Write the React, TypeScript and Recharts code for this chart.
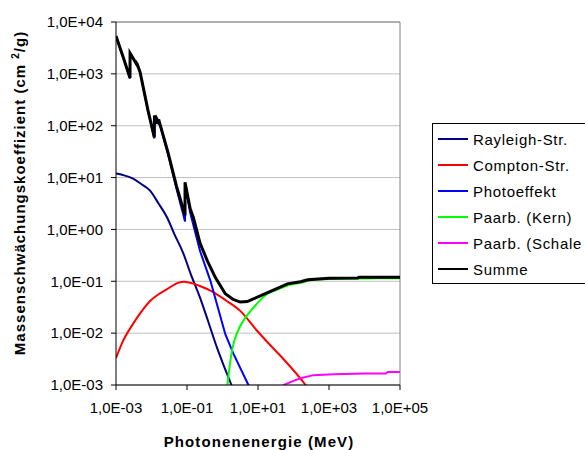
import { LineChart, Line, XAxis, YAxis, CartesianGrid, ReferenceLine } from "recharts";

// energies in MeV, mass attenuation in cm²/g
const sumEnergy = [
  1e-3, 1.58e-3, 2.48e-3, 2.49e-3, 3.16e-3, 3.55e-3, 3.56e-3, 3.85e-3, 3.86e-3, 4.79e-3,
  7.94e-3, 1.2e-2, 1.21e-2, 1.45e-2, 1.46e-2, 1.58e-2, 1.59e-2, 2.95e-2, 5e-2, 8.8e-2,
  8.81e-2, 0.123, 0.151, 0.234, 0.372, 0.631, 1.2, 2.0, 3.16, 5.0, 7.41, 18.6, 67.6, 158,
  251, 1000, 6460, 7000, 1e5,
];
const sumValues = [
  5370, 2140, 832, 2510, 1905, 1660, 1780, 1510, 1620, 1070,
  200, 60, 158, 112, 130, 118, 132, 29.5, 7.08, 1.86,
  8.13, 2.51, 1.7, 0.537, 0.251, 0.1175, 0.0575, 0.0447, 0.0398, 0.0407, 0.0457, 0.0603, 0.0891, 0.0977,
  0.107, 0.115, 0.116, 0.119, 0.119,
];

const photoEnergy = [
  1e-3, 1.58e-3, 2.48e-3, 2.49e-3, 3.16e-3, 3.55e-3, 3.56e-3, 3.85e-3, 3.86e-3, 4.79e-3,
  7.94e-3, 1.2e-2, 1.21e-2, 1.45e-2, 1.46e-2, 1.58e-2, 1.59e-2, 2.95e-2, 5e-2, 8.8e-2,
  8.81e-2, 0.123, 0.234, 0.457, 1.2, 2.04, 5.37, 8.0,
];
const photoValues = [
  5300, 2110, 818, 2480, 1880, 1640, 1760, 1490, 1600, 1055,
  195, 57, 154, 108, 126, 114, 128, 27.5, 6.3, 1.42,
  7.3, 2.1, 0.38, 0.102, 0.00955, 0.00398, 0.001, 0.00056,
];

const rayleighEnergy = [
  1e-3, 1.58e-3, 3.02e-3, 5.01e-3, 9.12e-3, 1.58e-2, 2.75e-2, 4.47e-2, 7.76e-2, 0.126,
  0.234, 0.398, 0.708, 1.12, 1.78, 2.51,
];
const rayleighValues = [
  12.0, 11.2, 9.55, 7.59, 5.62, 3.16, 1.7, 0.794, 0.355, 0.141,
  0.0479, 0.0166, 0.00513, 0.00224, 0.001, 0.0005,
];

const comptonEnergy = [
  1e-3, 1.58e-3, 3.02e-3, 5.01e-3, 9.12e-3, 1.58e-2, 2.75e-2, 5.62e-2, 8.32e-2, 0.123,
  0.251, 0.457, 1.26, 3.16, 9.55, 20, 49, 219, 316,
];
const comptonValues = [
  0.00331, 0.00708, 0.0151, 0.0251, 0.0417, 0.0562, 0.0708, 0.0933, 0.0977, 0.0933,
  0.0794, 0.0661, 0.0427, 0.0269, 0.011, 0.0063, 0.00331, 0.001, 0.000708,
];

const kernEnergy = [1.15, 1.38, 1.91, 2.63, 3.89, 7.41, 18.6, 35.5, 67.6, 158, 302, 1000, 1e4, 1e5];
const kernValues = [
  0.000251, 0.001, 0.00513, 0.0105, 0.0174, 0.0309, 0.0575, 0.0692, 0.0832, 0.0933, 0.105, 0.111, 0.1135, 0.115,
];

const schaleEnergy = [31.6, 52.5, 100, 158, 363, 1350, 1e4, 3.98e4, 4.47e4, 1e5];
const schaleValues = [0.0005, 0.001, 0.0012, 0.00135, 0.00155, 0.00162, 0.00166, 0.00166, 0.00178, 0.00178];

const xTicks = [1e-3, 1e-1, 1e1, 1e3, 1e5];
const yTicks = [1e-3, 1e-2, 1e-1, 1e0, 1e1, 1e2, 1e3, 1e4];

const toPoints = (xs: number[], ys: number[]) => xs.map((x, i) => ({ x, y: ys[i] }));

// curves with absorption edges stay linear, the smooth ones get monotone interpolation
const series = [
  { name: "Rayleigh-Str.", color: "#000080", width: 2, curve: "monotoneX", data: toPoints(rayleighEnergy, rayleighValues) },
  { name: "Compton-Str.", color: "#FF0000", width: 2, curve: "monotoneX", data: toPoints(comptonEnergy, comptonValues) },
  { name: "Photoeffekt", color: "#0000FF", width: 2, curve: "linear", data: toPoints(photoEnergy, photoValues) },
  { name: "Paarb. (Kern)", color: "#00FF00", width: 2, curve: "monotoneX", data: toPoints(kernEnergy, kernValues) },
  { name: "Paarb. (Schale", color: "#FF00FF", width: 2, curve: "linear", data: toPoints(schaleEnergy, schaleValues) },
  { name: "Summe", color: "#000000", width: 3, curve: "linear", data: toPoints(sumEnergy, sumValues) },
];

const font = "'Liberation Sans', Arial, sans-serif";

function sci(v: number) {
  const e = Math.round(Math.log10(v));
  return `1,0E${e < 0 ? "-" : "+"}${String(Math.abs(e)).padStart(2, "0")}`;
}

function LegendBox() {
  return (
    <div
      style={{
        position: "absolute",
        left: 432,
        top: 123,
        width: 175,
        border: "1px solid #000",
        background: "#fff",
        paddingTop: 2,
        paddingBottom: 1,
        fontFamily: font,
        fontSize: 15,
        letterSpacing: 0.7,
        color: "#000",
      }}
    >
      {series.map((s) => (
        <div key={s.name} style={{ height: 26, display: "flex", alignItems: "center", whiteSpace: "nowrap" }}>
          <div style={{ width: 30, height: 2, background: s.color, marginLeft: 5, marginRight: 5 }} />
          <span>{s.name}</span>
        </div>
      ))}
    </div>
  );
}

export default function App() {
  return (
    <div
      style={{
        position: "absolute",
        left: 0,
        top: 0,
        width: 585,
        height: 450,
        overflow: "hidden",
        background: "#fff",
      }}
    >
      <LineChart width={585} height={450} margin={{ top: 22, right: 185, bottom: 0, left: 0 }}>
        <CartesianGrid vertical={false} stroke="#c0c0c0" />
        <XAxis
          dataKey="x"
          type="number"
          scale="log"
          domain={[1e-3, 1e5]}
          ticks={xTicks}
          allowDataOverflow
          tickFormatter={sci}
          height={65}
          stroke="#000"
          tickSize={5}
          tickMargin={12}
          tick={{ fill: "#000", fontSize: 15, fontFamily: font }}
          label={{
            content: () => (
              <text
                x={259}
                y={447}
                textAnchor="middle"
                fontFamily={font}
                fontSize={15}
                fontWeight="bold"
                letterSpacing={1.1}
                fill="#000"
              >
                Photonenenergie (MeV)
              </text>
            ),
          }}
        />
        <YAxis
          type="number"
          scale="log"
          domain={[1e-3, 1e4]}
          ticks={yTicks}
          allowDataOverflow
          tickFormatter={sci}
          width={116}
          stroke="#000"
          tickSize={5}
          tickMargin={8}
          tick={{ fill: "#000", fontSize: 15, fontFamily: font }}
          label={{
            content: () => (
              <text
                x={25}
                y={193}
                transform="rotate(-90 25 193)"
                textAnchor="middle"
                fontFamily={font}
                fontSize={15}
                fontWeight="bold"
                letterSpacing={1}
                fill="#000"
              >
                Massenschwächungskoeffizient (cm{" "}
                <tspan dy={-6} fontSize={10}>
                  2
                </tspan>
                <tspan dy={6}>/g)</tspan>
              </text>
            ),
          }}
        />
        <ReferenceLine y={1e4} stroke="#808080" />
        <ReferenceLine x={1e5} stroke="#808080" />
        {series.map((s) => (
          <Line
            key={s.name}
            data={s.data}
            dataKey="y"
            name={s.name}
            type={s.curve as "linear" | "monotoneX"}
            stroke={s.color}
            strokeWidth={s.width}
            dot={false}
            activeDot={false}
            isAnimationActive={false}
          />
        ))}
      </LineChart>
      <LegendBox />
    </div>
  );
}
